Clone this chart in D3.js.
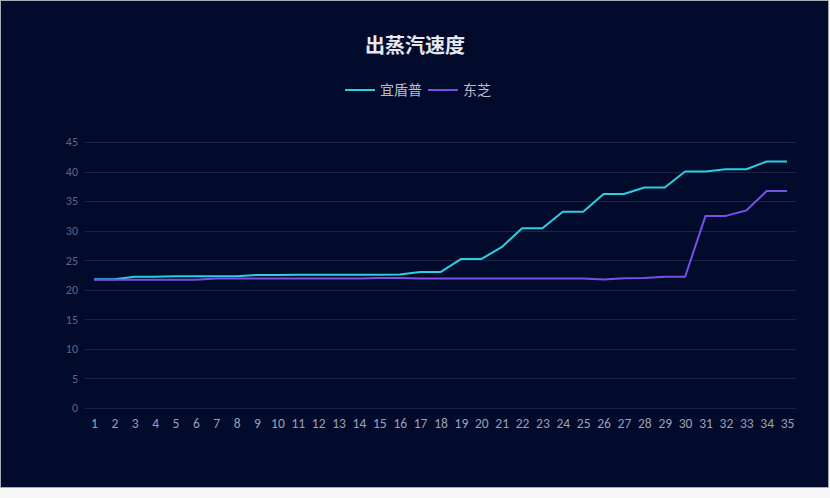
<!DOCTYPE html>
<html>
<head>
<meta charset="utf-8">
<script src="https://cdn.jsdelivr.net/npm/d3@7"></script>
<style>
  body { margin: 0; background: #f6f6f6; }
</style>
</head>
<body>
<script>
const categories = d3.range(1, 36).map(String);
const yTicks = [0, 5, 10, 15, 20, 25, 30, 35, 40, 45];

const yidunpu = [
  21.8, 21.8, 22.2, 22.2, 22.3, 22.3, 22.3, 22.3, 22.5, 22.5,
  22.55, 22.55, 22.55, 22.55, 22.55, 22.6, 23.0, 23.0, 25.2, 25.2,
  27.2, 30.4, 30.4, 33.2, 33.2, 36.2, 36.2, 37.3, 37.3, 40.0,
  40.0, 40.4, 40.4, 41.7, 41.7
];
const toshiba = [
  21.7, 21.7, 21.7, 21.7, 21.7, 21.7, 21.9, 21.9, 21.9, 21.9,
  21.9, 21.9, 21.9, 21.9, 22.0, 22.0, 21.9, 21.9, 21.9, 21.9,
  21.9, 21.9, 21.9, 21.9, 21.9, 21.75, 21.95, 22.0, 22.2, 22.2,
  32.5, 32.5, 33.4, 36.7, 36.7
];

const series = [
  { name: "宜盾普", values: yidunpu, color: "#2ad0e0" },
  { name: "东芝", values: toshiba, color: "#7b4fe6" }
];

const width = 830;
const height = 498;
const plot = { left: 85, right: 796, top: 142, bottom: 408 };

const svg = d3
  .select("body")
  .append("svg")
  .attr("width", width)
  .attr("height", height)
  .style("display", "block");

svg
  .append("rect")
  .attr("x", 0.5)
  .attr("y", 0.5)
  .attr("width", 828)
  .attr("height", 487)
  .attr("fill", "#020b2c")
  .attr("stroke", "#a9acb4")
  .attr("stroke-width", 1);

const x = d3
  .scalePoint()
  .domain(categories)
  .range([plot.left, plot.right])
  .padding(0.44);

const y = d3.scaleLinear().domain([0, 45]).range([plot.bottom, plot.top]);

const font = "'Microsoft YaHei', 'Noto Sans CJK SC', 'Noto Sans', sans-serif";
const tickFont = "Calibri, Carlito, Lato, sans-serif";

// grid
svg
  .append("g")
  .selectAll("line")
  .data(yTicks)
  .join("line")
  .attr("x1", plot.left)
  .attr("x2", plot.right)
  .attr("y1", (d) => Math.round(y(d)) + 0.5)
  .attr("y2", (d) => Math.round(y(d)) + 0.5)
  .attr("stroke", "#1b2442")
  .attr("stroke-width", 1);

// y axis labels
const yAxis = svg
  .append("g")
  .attr("transform", `translate(${plot.left - 7},0)`)
  .call(d3.axisLeft(y).tickValues(yTicks).tickSize(0).tickPadding(0));
yAxis.select(".domain").remove();
yAxis
  .selectAll("text")
  .attr("fill", "#5e6682")
  .attr("font-size", 12)
  .attr("font-family", tickFont);

// x axis labels
const xAxis = svg
  .append("g")
  .attr("transform", `translate(0,${plot.bottom + 10})`)
  .call(d3.axisBottom(x).tickSize(0).tickPadding(0));
xAxis.select(".domain").remove();
xAxis
  .selectAll("text")
  .attr("fill", "#9ba1b4")
  .attr("font-size", 13.5)
  .attr("font-family", tickFont);

// lines
const line = d3
  .line()
  .x((d, i) => x(categories[i]))
  .y((d) => y(d));

svg
  .append("g")
  .selectAll("path")
  .data(series)
  .join("path")
  .attr("d", (d) => line(d.values))
  .attr("fill", "none")
  .attr("stroke", (d) => d.color)
  .attr("stroke-width", 2)
  .attr("stroke-linejoin", "round");

// title
svg
  .append("text")
  .attr("x", 415)
  .attr("y", 53)
  .attr("text-anchor", "middle")
  .attr("fill", "#e6e8ee")
  .attr("font-size", 20)
  .attr("font-weight", "bold")
  .attr("font-family", font)
  .text("出蒸汽速度");

// legend
const legend = svg.append("g").attr("transform", "translate(345,90)");
const legendX = [0, 83];
series.forEach((s, i) => {
  const g = legend.append("g").attr("transform", `translate(${legendX[i]},0)`);
  g.append("line")
    .attr("x1", 0)
    .attr("x2", 30)
    .attr("y1", 0)
    .attr("y2", 0)
    .attr("stroke", s.color)
    .attr("stroke-width", 2);
  g.append("text")
    .attr("x", 35)
    .attr("y", 5)
    .attr("fill", "#b9bccb")
    .attr("font-size", 14)
    .attr("font-family", font)
    .text(s.name);
});
</script>
</body>
</html>
